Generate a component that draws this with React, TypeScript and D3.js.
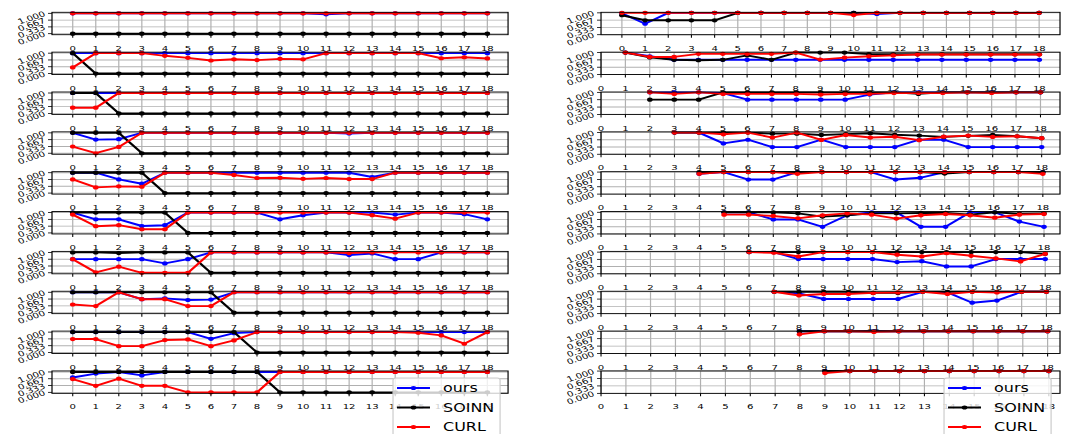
import React, { useRef, useEffect } from "react";
import * as d3 from "d3";

// tick values and labels
const xTicks = [0, 1, 2, 3, 4, 5, 6, 7, 8, 9, 10, 11, 12, 13, 14, 15, 16, 17, 18];
const yTicks = [0, 1 / 3, 2 / 3, 1];
const yTickLabels = ["0.000", "0.333", "0.667", "1.000"];

const seriesNames = ["ours", "SOINN", "CURL"];
const seriesColors = ["#0000ff", "#000000", "#ff0000"];

// left column: every row starts at x = 0
const leftOurs = [
  [1, 1, 1, 1, 1, 1, 1, 1, 1, 1, 1, 0.95, 1, 1, 1, 1, 1, 1, 1],
  [1, 1, 1, 1, 1, 1, 1, 1, 1, 1, 1, 1, 1, 1, 1, 1, 1, 1, 1],
  [1, 1, 1, 1, 1, 1, 1, 1, 1, 1, 1, 1, 1, 1, 1, 1, 1, 1, 1],
  [1, 0.67, 0.69, 1, 1, 1, 1, 1, 1, 1, 1, 1, 0.97, 1, 1, 1, 1, 1, 1],
  [1, 1, 0.67, 0.46, 1, 1, 1, 1, 1, 1, 1, 1, 1, 0.79, 1, 1, 1, 1, 1],
  [1, 0.67, 0.67, 0.34, 0.38, 1, 1, 1, 1, 0.67, 0.87, 1, 1, 1, 0.9, 1, 1, 0.92, 0.67],
  [0.67, 0.67, 0.67, 0.67, 0.46, 0.67, 1, 1, 1, 1, 1, 1, 0.87, 0.95, 0.67, 0.67, 1, 1, 1],
  [1, 1, 1, 0.66, 0.7, 0.62, 0.64, 1, 1, 1, 1, 1, 1, 1, 1, 1, 1, 1, 1],
  [1, 1, 1, 1, 1, 1, 0.67, 0.95, 1, 1, 1, 1, 1, 1, 1, 1, 1, 1, 1],
  [0.73, 0.92, 1, 0.83, 1, 1, 1, 1, 1, 1, 1, 1, 1, 1, 1, 1, 1, 1, 1],
];
const leftSoinn = [
  [0, 0, 0, 0, 0, 0, 0, 0, 0, 0, 0, 0, 0, 0, 0, 0, 0, 0, 0],
  [1, 0, 0, 0, 0, 0, 0, 0, 0, 0, 0, 0, 0, 0, 0, 0, 0, 0, 0],
  [1, 1, 0, 0, 0, 0, 0, 0, 0, 0, 0, 0, 0, 0, 0, 0, 0, 0, 0],
  [1, 1, 1, 0, 0, 0, 0, 0, 0, 0, 0, 0, 0, 0, 0, 0, 0, 0, 0],
  [1, 1, 1, 1, 0, 0, 0, 0, 0, 0, 0, 0, 0, 0, 0, 0, 0, 0, 0],
  [1, 1, 1, 1, 1, 0, 0, 0, 0, 0, 0, 0, 0, 0, 0, 0, 0, 0, 0],
  [1, 1, 0.97, 1, 1, 1, 0, 0, 0, 0, 0, 0, 0, 0, 0, 0, 0, 0, 0],
  [1, 1, 1, 1, 1, 1, 1, 0, 0, 0, 0, 0, 0, 0, 0, 0, 0, 0, 0],
  [1, 1, 1, 1, 1, 1, 1, 1, 0, 0, 0, 0, 0, 0, 0, 0, 0, 0, 0],
  [1, 1, 1, 1, 1, 1, 1, 1, 1, 0, 0, 0, 0, 0, 0, 0, 0, 0, 0],
];
const leftCurl = [
  [1, 1, 1, 1, 1, 1, 1, 1, 1, 1, 1, 1, 1, 1, 1, 1, 1, 1, 1],
  [0.3, 1, 1, 1, 0.87, 0.77, 0.64, 0.7, 0.66, 0.72, 0.7, 1, 1, 1, 1, 1, 0.75, 0.8, 0.74],
  [0.28, 0.28, 1, 1, 1, 1, 1, 1, 1, 1, 1, 1, 1, 1, 1, 1, 1, 1, 1],
  [0.33, 0, 0.31, 1, 1, 1, 1, 1, 1, 1, 1, 1, 1, 1, 1, 1, 1, 1, 1],
  [0.67, 0.28, 0.33, 0.31, 1, 1, 1, 0.89, 0.74, 0.75, 0.7, 0.74, 0.69, 0.69, 1, 1, 1, 1, 1],
  [0.9, 0.33, 0.38, 0.18, 0.18, 1, 1, 1, 1, 1, 1, 1, 1, 0.87, 0.7, 1, 1, 1, 1],
  [0.67, 0.02, 0.3, 0, 0, 0, 1, 1, 1, 1, 1, 1, 0.97, 1, 1, 1, 1, 1, 1],
  [0.4, 0.32, 1, 0.66, 0.66, 0.32, 0.32, 1, 1, 1, 1, 1, 1, 1, 1, 1, 1, 1, 1],
  [0.66, 0.66, 0.31, 0.31, 0.61, 0.64, 0.31, 0.59, 1, 1, 1, 1, 1, 1, 1, 0.97, 0.84, 0.43, 1],
  [0.65, 0.32, 0.67, 0.32, 0.32, 0, 0, 0, 0, 1, 1, 1, 1, 1, 1, 1, 1, 1, 1],
];

// right column: row i starts at x = rightStart[i]
const rightStart = [0, 1, 2, 3, 4, 5, 6, 7, 8, 9];
const rightOurs = [
  [0.98, 0.5, 1, 1, 1, 1, 1, 1, 1, 1, 1, 0.95, 1, 1, 1, 1, 1, 1, 1],
  [1, 0.83, 0.67, 0.67, 0.67, 0.67, 0.67, 0.67, 0.67, 0.67, 0.67, 0.67, 0.67, 0.67, 0.67, 0.67, 0.67, 0.67],
  [1, 1, 1, 0.97, 0.67, 0.67, 0.67, 0.67, 0.67, 0.9, 1, 1, 1, 1, 1, 1, 1],
  [1, 1, 0.5, 0.67, 0.33, 0.33, 0.67, 0.33, 0.33, 0.33, 0.67, 0.67, 0.33, 0.33, 0.33, 0.33],
  [0.92, 1, 0.66, 0.66, 1, 1, 1, 1, 0.66, 0.74, 1, 1, 1, 1, 1],
  [1, 1, 0.67, 0.67, 0.33, 0.86, 1, 1, 0.33, 0.33, 1, 1, 0.57, 0.33],
  [1, 1, 0.68, 0.68, 0.68, 0.68, 0.54, 0.58, 0.34, 0.34, 0.68, 0.68, 0.68],
  [1, 0.93, 0.67, 0.67, 0.67, 0.67, 1, 0.97, 0.5, 0.6, 1, 1],
  [1, 1, 1, 1, 1, 1, 1, 1, 1, 1, 1],
  [1, 1, 1, 1, 1, 1, 1, 1, 1, 1],
];
const rightSoinn = [
  [0.89, 0.66, 0.66, 0.66, 0.66, 1, 1, 1, 1, 1, 1, 1, 1, 1, 1, 1, 1, 1, 1],
  [1, 0.78, 0.67, 0.65, 0.67, 0.87, 0.67, 1, 1, 1, 0.93, 0.92, 0.92, 0.92, 0.92, 0.92, 0.92, 0.92],
  [0.67, 0.67, 0.67, 1, 1, 1, 1, 1, 1, 1, 1, 0.93, 1, 1, 1, 1, 1],
  [1, 1, 1, 1, 0.95, 0.95, 0.89, 0.93, 0.97, 0.9, 0.86, 0.8, 0.85, 0.89, 0.83, 0.74],
  [1, 1, 1, 1, 1, 1, 1, 1, 1, 1, 0.93, 1, 1, 1, 1],
  [1, 1, 1, 0.95, 0.8, 0.86, 0.95, 0.95, 0.97, 0.97, 0.89, 1, 0.93, 0.95],
  [1, 1, 1, 1, 1, 1, 1, 1, 1, 1, 1, 1, 0.92],
  [1, 1, 1, 1, 0.95, 0.95, 1, 1, 1, 1, 1, 1],
  [1, 1, 1, 1, 1, 1, 1, 1, 1, 1, 1],
  [1, 1, 1, 1, 1, 1, 1, 1, 1, 1],
];
const rightCurl = [
  [1, 1, 1, 1, 1, 1, 1, 1, 1, 1, 0.9, 1, 1, 1, 1, 1, 1, 1, 1],
  [1, 0.8, 0.8, 0.94, 0.94, 0.94, 0.94, 1, 0.68, 0.77, 0.83, 0.87, 0.91, 0.91, 0.91, 0.91, 0.91, 0.91],
  [1, 0.93, 1, 0.93, 0.93, 0.93, 0.93, 0.9, 0.93, 0.93, 0.97, 0.97, 0.97, 1, 0.97, 1, 1],
  [1, 1, 0.92, 1, 0.77, 1, 0.66, 0.89, 0.77, 0.81, 0.65, 0.81, 0.86, 0.8, 0.83, 0.74],
  [0.92, 1, 1, 1, 0.92, 1, 1, 1, 1, 1, 1, 1, 1, 1, 0.92],
  [0.89, 0.89, 0.83, 0.72, 0.86, 0.95, 0.89, 0.71, 0.86, 0.92, 0.86, 0.75, 0.89, 0.92],
  [1, 0.97, 0.8, 1, 1, 1, 0.88, 0.8, 0.95, 0.83, 0.71, 0.57, 0.92],
  [1, 0.83, 0.9, 0.9, 0.95, 0.97, 1, 0.9, 1, 0.97, 1, 1],
  [0.86, 1, 1, 0.97, 1, 1, 1, 1, 1, 1, 1],
  [0.91, 1, 1, 1, 1, 1, 1, 1, 1, 1],
];

function App() {
  const canvas = useRef(null);

  function drawChart() {
    const [width, height] = [1073, 434];
    const sx = 1.33; // the whole figure is stretched horizontally
    const cols = [
      { left: 39.1, right: 382.0, legendX: 295.5 },
      { left: 451.9, right: 797.0, legendX: 709.8 },
    ];
    const rowTop = (i) => 12.3 + 39.85 * i;
    const rowH = 22.4;

    const root = d3.select(canvas.current);
    root.selectAll("*").remove();
    const svg = root
      .append("svg")
      .attr("width", width)
      .attr("height", height)
      .style("position", "absolute")
      .style("left", 0)
      .style("top", 0)
      .style("background", "#fff");

    const fig = svg
      .append("g")
      .attr("transform", `scale(${sx},1)`)
      .attr("font-family", "DejaVu Sans, sans-serif");

    cols.forEach((col, c) => {
      for (let r = 0; r < 10; r++) {
        const start = c === 0 ? 0 : rightStart[r];
        const series =
          c === 0
            ? [leftOurs[r], leftSoinn[r], leftCurl[r]]
            : [rightOurs[r], rightSoinn[r], rightCurl[r]];

        const all = series.flat();
        const dmin = d3.min(all);
        const dmax = d3.max(all);
        const my = 0.05 * (dmax - dmin);
        const ylo = Math.min(0, dmin - my);
        const yhi = Math.max(1, dmax + my);
        const mx = 0.05 * (18 - start);
        const xlo = Math.min(0, start - mx);
        const xhi = Math.max(18, 18 + mx);

        const top = rowTop(r);
        const bottom = top + rowH;
        const x = d3.scaleLinear().domain([xlo, xhi]).range([col.left, col.right]);
        const y = d3.scaleLinear().domain([ylo, yhi]).range([bottom, top]);

        const g = fig.append("g");

        // grid
        g.append("g")
          .attr("stroke", "#b0b0b0")
          .attr("stroke-width", 0.9)
          .call((gg) =>
            gg
              .selectAll(".gx")
              .data(xTicks)
              .join("line")
              .attr("class", "gx")
              .attr("x1", (d) => x(d))
              .attr("x2", (d) => x(d))
              .attr("y1", top)
              .attr("y2", bottom)
          )
          .call((gg) =>
            gg
              .selectAll(".gy")
              .data(yTicks)
              .join("line")
              .attr("class", "gy")
              .attr("x1", col.left)
              .attr("x2", col.right)
              .attr("y1", (d) => y(d))
              .attr("y2", (d) => y(d))
          );

        // series
        series.forEach((vals, s) => {
          const pts = vals.map((v, k) => [start + k, v]);
          const line = d3
            .line()
            .x((d) => x(d[0]))
            .y((d) => y(d[1]));
          g.append("path")
            .attr("d", line(pts))
            .attr("fill", "none")
            .attr("stroke", seriesColors[s])
            .attr("stroke-width", 1.9)
            .attr("stroke-linejoin", "round");
          g.append("g")
            .selectAll("circle")
            .data(pts)
            .join("circle")
            .attr("cx", (d) => x(d[0]))
            .attr("cy", (d) => y(d[1]))
            .attr("r", 2.1)
            .attr("fill", seriesColors[s]);
        });

        // spines
        g.append("rect")
          .attr("x", col.left)
          .attr("y", top)
          .attr("width", col.right - col.left)
          .attr("height", rowH)
          .attr("fill", "none")
          .attr("stroke", "#000")
          .attr("stroke-width", 0.9);

        // x ticks
        const gx = g.append("g");
        gx.selectAll("line")
          .data(xTicks)
          .join("line")
          .attr("x1", (d) => x(d))
          .attr("x2", (d) => x(d))
          .attr("y1", bottom)
          .attr("y2", bottom + 3)
          .attr("stroke", "#000")
          .attr("stroke-width", 0.8);
        gx.selectAll("text")
          .data(xTicks)
          .join("text")
          .attr("x", (d) => x(d))
          .attr("y", bottom + 13.5)
          .attr("dy", "0.35em")
          .attr("text-anchor", "middle")
          .attr("font-size", 7.6)
          .attr("fill", "#000")
          .text((d) => d);

        // y ticks
        const gy = g.append("g");
        gy.selectAll("line")
          .data(yTicks)
          .join("line")
          .attr("x1", col.left - 3)
          .attr("x2", col.left)
          .attr("y1", (d) => y(d))
          .attr("y2", (d) => y(d))
          .attr("stroke", "#000")
          .attr("stroke-width", 0.8);
        gy.selectAll("text")
          .data(yTicks)
          .join("text")
          .attr("x", col.left - 5.5)
          .attr("y", (d) => y(d))
          .attr("dy", "0.35em")
          .attr("text-anchor", "end")
          .attr("font-size", 7.6)
          .attr("fill", "#000")
          .attr("transform", (d) => `rotate(-24,${col.left - 5.5},${y(d)})`)
          .text((d, i) => yTickLabels[i]);
      }

      // legend under the last row
      const lg = fig.append("g");
      const lx = col.legendX;
      lg.append("rect")
        .attr("x", lx)
        .attr("y", 378)
        .attr("width", 80.5)
        .attr("height", 70)
        .attr("rx", 2)
        .attr("fill", "#fff")
        .attr("fill-opacity", 0.8)
        .attr("stroke", "#cccccc")
        .attr("stroke-width", 0.9);
      const entryY = [388, 407.5, 427];
      seriesNames.forEach((name, s) => {
        lg.append("line")
          .attr("x1", lx + 3)
          .attr("x2", lx + 27.8)
          .attr("y1", entryY[s])
          .attr("y2", entryY[s])
          .attr("stroke", seriesColors[s])
          .attr("stroke-width", 1.9);
        lg.append("circle")
          .attr("cx", lx + 15.4)
          .attr("cy", entryY[s])
          .attr("r", 2.1)
          .attr("fill", seriesColors[s]);
        lg.append("text")
          .attr("x", lx + 37.6)
          .attr("y", entryY[s])
          .attr("dy", "0.35em")
          .attr("font-size", 12)
          .attr("fill", "#000")
          .text(name);
      });
    });
  }

  useEffect(() => {
    drawChart();
  }, []);

  return <div ref={canvas} />;
}

export default App;
